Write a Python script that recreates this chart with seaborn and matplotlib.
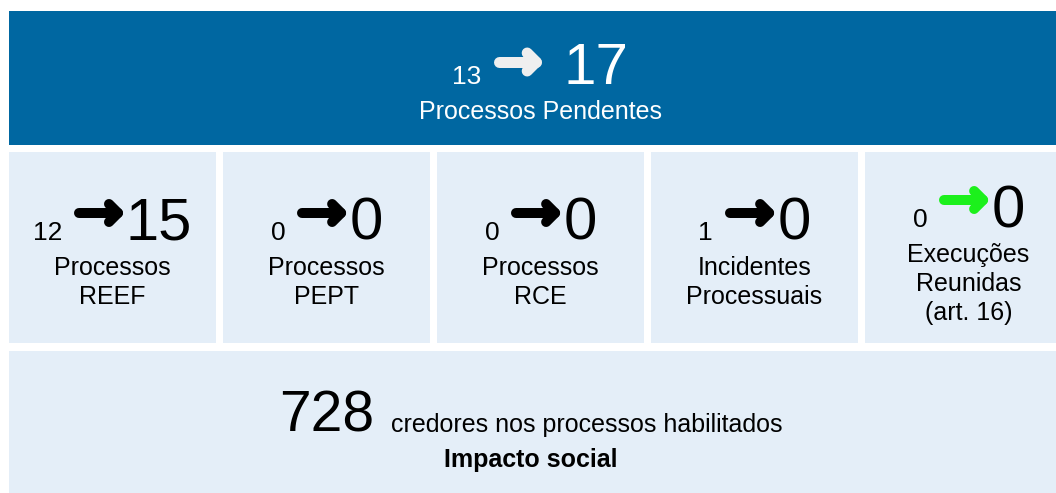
import matplotlib
matplotlib.use("Agg")
import matplotlib.pyplot as plt
import seaborn as sns
from matplotlib.patches import Rectangle
from matplotlib.lines import Line2D

# values shown in the picture
total_before = 13
total_after = 17
total_label = "Processos Pendentes"
tile_labels = ["Processos\nREEF", "Processos\nPEPT", "Processos\nRCE",
               "Incidentes\nProcessuais", "Execuções\nReunidas\n(art. 16)"]
tile_before = [12, 0, 0, 1, 0]
tile_after = [15, 0, 0, 0, 0]
tile_arrow_colors = ["black", "black", "black", "black", "#1CF01C"]
creditors = 728
creditors_text = "credores nos processos habilitados"
impact_label = "Impacto social"

BLUE = "#0067A1"
LIGHT = "#E4EEF8"

sns.set_theme(style="white")
plt.rcParams["font.family"] = ["Liberation Sans", "DejaVu Sans"]

fig = plt.figure(figsize=(10.56, 4.93), dpi=100)
ax = fig.add_axes([0, 0, 1, 1])
ax.set_xlim(0, 1056)
ax.set_ylim(493, 0)
ax.axis("off")
renderer = fig.canvas.get_renderer()
PT = 72 / fig.dpi  # one pixel in points


def width(t):
    return t.get_window_extent(renderer).width


def draw_arrow(x0, yc, length, leg, thick, color):
    # thick shaft + chevron head, round caps (like the "heavy round-tipped" arrow)
    tip = x0 + length - thick / 2
    style = dict(lw=thick * PT, color=color, solid_capstyle="round",
                 solid_joinstyle="round")
    ax.add_line(Line2D([x0 + thick / 2, tip], [yc, yc], **style))
    ax.add_line(Line2D([tip - leg, tip, tip - leg], [yc - leg, yc, yc + leg], **style))


def draw_change(cx, base, before, after, color, arrow_color, small=19, big=43,
                alen=49, leg=9, athk=10, gap1=12, gap2=3, rise=27):
    t1 = ax.text(0, base, str(before), fontsize=small, color=color, va="baseline")
    t2 = ax.text(0, base, str(after), fontsize=big, color=color, va="baseline")
    w1, w2 = width(t1), width(t2)
    x = cx - (w1 + gap1 + alen + gap2 + w2) / 2
    t1.set_x(x)
    draw_arrow(x + w1 + gap1, base - rise, alen, leg, athk, arrow_color)
    t2.set_x(x + w1 + gap1 + alen + gap2)


# layout
left, tile_w, gap = 9, 207, 7
right = left + 5 * tile_w + 4 * gap
cx_all = (left + right) / 2

# top banner
ax.add_patch(Rectangle((left, 11), right - left, 134, color=BLUE, lw=0))
draw_change(cx_all, 84, total_before, total_after, "white", "#EFEFEF",
            big=42, alen=48, leg=9, athk=11, gap1=12, gap2=22, rise=22)
ax.text(cx_all, 119, total_label, fontsize=18, color="white",
        ha="center", va="baseline")

# tiles
for i, lab in enumerate(tile_labels):
    x0 = left + i * (tile_w + gap)
    ax.add_patch(Rectangle((x0, 152), tile_w, 191, color=LIGHT, lw=0))
    cx = x0 + tile_w / 2
    lines = lab.split("\n")
    base = 240 if len(lines) == 2 else 227
    draw_change(cx, base, tile_before[i], tile_after[i], "black",
                tile_arrow_colors[i])
    for j, line in enumerate(lines):
        ax.text(cx, base + 35 + 29 * j, line, fontsize=18, color="black",
                ha="center", va="baseline")

# bottom panel
ax.add_patch(Rectangle((left, 351), right - left, 150, color=LIGHT, lw=0))
tn = ax.text(0, 432, str(creditors), fontsize=41, color="black", va="baseline")
tc = ax.text(0, 432, creditors_text, fontsize=18, color="black", va="baseline")
wn, wc = width(tn), width(tc)
x = 531 - (wn + 17 + wc) / 2
tn.set_x(x)
tc.set_x(x + wn + 17)
ax.text(531, 467, impact_label, fontsize=18, fontweight="bold", color="black",
        ha="center", va="baseline")

fig.savefig("out.png", dpi=100, facecolor="white")
